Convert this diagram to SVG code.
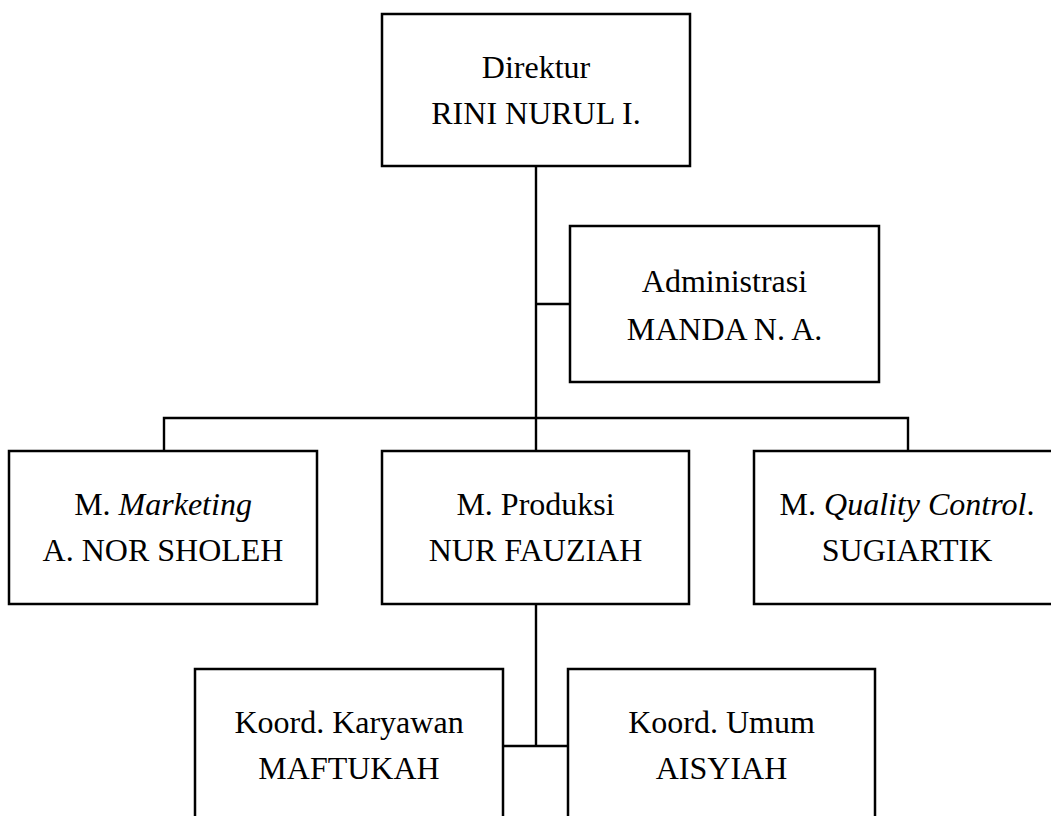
<svg xmlns="http://www.w3.org/2000/svg" width="1051" height="816" viewBox="0 0 1051 816">
<style>
.box{fill:#fff;stroke:#000;stroke-width:2.5}
.ln{fill:none;stroke:#000;stroke-width:2.4}
text{font-family:"Liberation Serif","Times New Roman",serif;font-size:32px;fill:#000;text-anchor:middle}
.it{font-style:italic}
</style>
<rect width="1051" height="816" fill="#fff"/>
<g id="connectors">
<path class="ln" d="M536,166 V451 M536,304 H570 M164,451 V418 H908 V451 M536,604 V746 M503,746 H568"/>
</g>
<g id="direktur">
<rect class="box" x="382" y="14" width="308" height="152"/>
<text x="536" y="78">Direktur</text>
<text x="536" y="124">RINI NURUL I.</text>
</g>
<g id="administrasi">
<rect class="box" x="570" y="226" width="309" height="156"/>
<text x="724.5" y="292">Administrasi</text>
<text x="724.5" y="340">MANDA N. A.</text>
</g>
<g id="marketing">
<rect class="box" x="9" y="451" width="308" height="153"/>
<text x="163" y="515">M. <tspan class="it">Marketing</tspan></text>
<text x="163" y="561">A. NOR SHOLEH</text>
</g>
<g id="produksi">
<rect class="box" x="382" y="451" width="307" height="153"/>
<text x="535.5" y="515">M. Produksi</text>
<text x="535.5" y="561">NUR FAUZIAH</text>
</g>
<g id="qc">
<rect class="box" x="754" y="451" width="308" height="153"/>
<text x="907" y="515">M. <tspan class="it">Quality Control</tspan>.</text>
<text x="907" y="561">SUGIARTIK</text>
</g>
<g id="karyawan">
<rect class="box" x="195" y="669" width="308" height="160"/>
<text x="349" y="733">Koord. Karyawan</text>
<text x="349" y="779">MAFTUKAH</text>
</g>
<g id="umum">
<rect class="box" x="568" y="669" width="307" height="160"/>
<text x="721.5" y="733">Koord. Umum</text>
<text x="721.5" y="779">AISYIAH</text>
</g>
</svg>
